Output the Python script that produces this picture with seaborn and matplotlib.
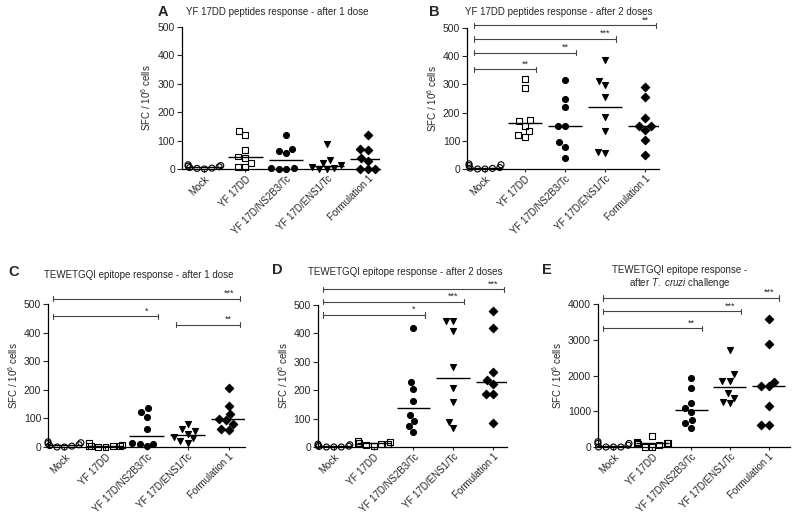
import numpy as np
import pandas as pd
import seaborn as sns
import matplotlib.pyplot as plt

sns.set_theme(style='ticks')
plt.rcParams['font.family'] = ['Liberation Sans', 'DejaVu Sans']
plt.rcParams['mathtext.fontset'] = 'custom'
plt.rcParams['mathtext.rm'] = 'Liberation Sans'
plt.rcParams['mathtext.it'] = 'Liberation Sans:italic'

groups = ['Mock', 'YF 17DD', 'YF 17D/NS2B3/Tc', 'YF 17D/ENS1/Tc', 'Formulation 1']

# A - YF 17DD peptides, 1 dose
a_mock = [0, 2, 5, 8, 10, 12, 15, 3]
a_yf = [133, 118, 67, 44, 40, 21, 6, 8]
a_ns2b3 = [119, 70, 62, 55, 5, 2, 0, 0]
a_ens1 = [88, 30, 22, 15, 8, 3, 0, 0]
a_form1 = [120, 70, 68, 40, 28, 0, 0, 0]

# B - YF 17DD peptides, 2 doses
b_mock = [15, 0, 3, 5, 18, 0, 2, 12]
b_yf = [318, 287, 172, 169, 154, 133, 121, 112]
b_ns2b3 = [314, 247, 220, 151, 151, 94, 78, 38]
b_ens1 = [386, 312, 297, 255, 185, 134, 56, 62]
b_form1 = [292, 256, 180, 153, 153, 138, 102, 49]

# C - TEWETGQI, 1 dose
c_mock = [0, 3, 8, 12, 18, 15, 5, 0]
c_yf = [15, 5, 3, 0, 0, 2, 5, 8]
c_ns2b3 = [137, 123, 105, 62, 14, 12, 12, 2]
c_ens1 = [82, 64, 55, 47, 35, 30, 20, 15]
c_form1 = [205, 143, 117, 98, 96, 82, 64, 61]

# D - TEWETGQI, 2 doses
d_mock = [0, 0, 3, 5, 8, 2, 10, 0]
d_yf = [20, 18, 15, 12, 15, 8, 5, 10]
d_ns2b3 = [418, 228, 205, 163, 113, 92, 73, 53]
d_ens1 = [445, 443, 408, 282, 207, 160, 88, 68]
d_form1 = [478, 420, 265, 235, 222, 187, 187, 85]

# E - TEWETGQI, after T. cruzi challenge
e_mock = [0, 0, 50, 100, 100, 0, 0, 150]
e_yf = [300, 150, 100, 80, 50, 0, 0, 120, 100]
e_ns2b3 = [1920, 1640, 1218, 1096, 984, 750, 675, 543]
e_ens1 = [2700, 2030, 1860, 1860, 1500, 1380, 1260, 1220]
e_form1 = [3578, 2876, 1827, 1705, 1705, 1143, 609, 609]

# significance bars: (from group, to group, height, label)
b_sig = [(0, 1, 353, '**'), (0, 2, 412, '**'), (0, 3, 461, '***'), (0, 4, 509, '**')]
c_sig = [(0, 4, 518, '***'), (0, 2, 457, '*'), (3, 4, 427, '**')]
d_sig = [(0, 4, 555, '***'), (0, 3, 512, '***'), (0, 2, 465, '*')]
e_sig = [(0, 4, 4170, '***'), (0, 3, 3795, '***'), (0, 2, 3325, '**')]

markers = ['o', 's', 'o', 'v', 'D']
filled = [False, False, True, True, True]

fig = plt.figure(figsize=(7.94, 5.16), dpi=100)


def panel(rect, data, sig, ymax, ystep, xlim):
    ax = fig.add_axes(rect)
    rows = []
    for g, vals in zip(groups, data):
        rows += [(g, v) for v in vals]
    df = pd.DataFrame(rows, columns=['group', 'value'])

    for g, m, f in zip(groups, markers, filled):
        sns.swarmplot(data=df[df['group'] == g], x='group', y='value', order=groups,
                      marker=m, size=4.3, color='black',
                      facecolor='black' if f else 'none', edgecolor='black',
                      linewidth=0.8, zorder=4, ax=ax)
    # drop the empty collections seaborn makes for the other groups,
    # let the real points spill over the axis line like the original
    for coll in list(ax.collections):
        if len(coll.get_offsets()) == 0:
            coll.remove()
        else:
            coll.set_clip_on(False)

    # median lines
    sns.boxplot(data=df, x='group', y='value', order=groups, width=0.85,
                showbox=False, showcaps=False, showfliers=False,
                whiskerprops={'visible': False},
                medianprops={'color': 'black', 'linewidth': 1.0}, ax=ax)

    for i, j, y, lab in sig:
        x0, x1 = i - 0.28, j + 0.28
        d = ymax * 0.018
        kw = dict(color='#444444', lw=0.8, clip_on=False)
        ax.plot([x0, x1], [y, y], **kw)
        ax.plot([x0, x0], [y - d, y + d], **kw)
        ax.plot([x1, x1], [y - d, y + d], **kw)
        ax.text(j, y + d * 0.3, lab, ha='center', va='bottom', fontsize=6.5)

    ax.set_xlim(*xlim)
    ax.set_ylim(0, ymax)
    ax.set_yticks(np.arange(0, ymax + 1, ystep))
    ax.set_xlabel('')
    ax.set_ylabel('SFC / 10$^6$ cells', fontsize=7, labelpad=3)
    ax.tick_params(axis='y', labelsize=7.5, length=3.5, width=0.8, pad=1.5)
    ax.tick_params(axis='x', labelsize=7, length=2.5, width=0.8, pad=1)
    plt.setp(ax.get_xticklabels(), rotation=45, ha='right', rotation_mode='anchor')
    sns.despine(ax=ax)
    for s in ['left', 'bottom']:
        ax.spines[s].set_linewidth(0.9)
        ax.spines[s].set_color('black')
    return ax


panel([0.2292, 0.6725, 0.2494, 0.2752],
      [a_mock, a_yf, a_ns2b3, a_ens1, a_form1], [], 500, 100, (-0.55, 4.3))
panel([0.5882, 0.6725, 0.2418, 0.2733],
      [b_mock, b_yf, b_ns2b3, b_ens1, b_form1], b_sig, 500, 100, (-0.45, 4.35))
panel([0.0605, 0.1337, 0.2481, 0.2771],
      [c_mock, c_yf, c_ns2b3, c_ens1, c_form1], c_sig, 500, 100, (-0.4, 4.4))
panel([0.4005, 0.1337, 0.2380, 0.2752],
      [d_mock, d_yf, d_ns2b3, d_ens1, d_form1], d_sig, 500, 100, (-0.4, 4.35))
panel([0.7531, 0.1337, 0.2418, 0.2771],
      [e_mock, e_yf, e_ns2b3, e_ens1, e_form1], e_sig, 4000, 1000, (-0.4, 4.55))

# panel letters and titles
for x, y, l in [(0.198, 0.977, 'A'), (0.540, 0.977, 'B'), (0.010, 0.473, 'C'),
                (0.343, 0.477, 'D'), (0.683, 0.477, 'E')]:
    fig.text(x, y, l, fontsize=10.5, fontweight='bold', ha='left', va='center')

fig.text(0.349, 0.977, 'YF 17DD peptides response - after 1 dose', fontsize=7, ha='center', va='center')
fig.text(0.704, 0.977, 'YF 17DD peptides response - after 2 doses', fontsize=7, ha='center', va='center')
fig.text(0.175, 0.467, 'TEWETGQI epitope response - after 1 dose', fontsize=7, ha='center', va='center')
fig.text(0.510, 0.473, 'TEWETGQI epitope response - after 2 doses', fontsize=7, ha='center', va='center')
fig.text(0.856, 0.463, 'TEWETGQI epitope response -\nafter $\\mathit{T.\\ cruzi}$ challenge',
         fontsize=7, ha='center', va='center', linespacing=1.1)

fig.savefig('out.png', dpi=100)
